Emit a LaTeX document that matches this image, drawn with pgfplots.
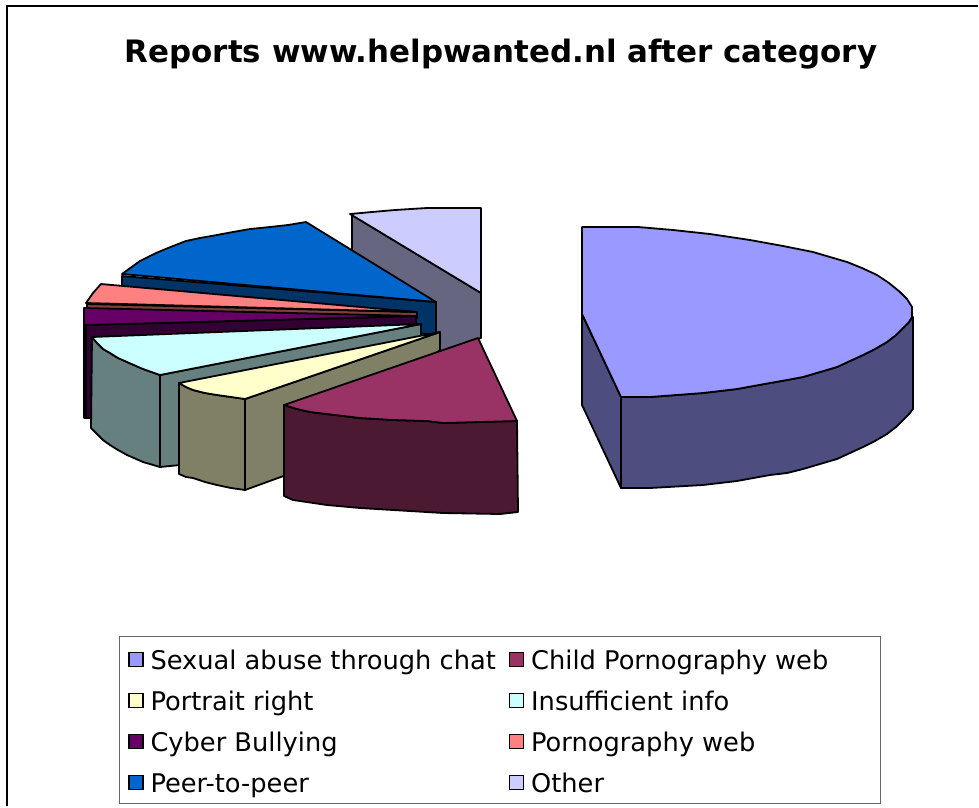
\documentclass[border=0pt]{standalone}
\usepackage{pgfplots}
\pgfplotsset{compat=1.18}
\usepackage{fontspec}
\setmainfont{DejaVu Sans}
\definecolor{aT}{HTML}{9999FF}\definecolor{aS}{HTML}{4D4D7F}
\definecolor{bT}{HTML}{993366}\definecolor{bS}{HTML}{4C1933}
\definecolor{cT}{HTML}{FFFFCC}\definecolor{cS}{HTML}{808066}
\definecolor{dT}{HTML}{CCFFFF}\definecolor{dS}{HTML}{668080}
\definecolor{eT}{HTML}{660066}\definecolor{eS}{HTML}{330033}
\definecolor{fT}{HTML}{FF8080}\definecolor{fS}{HTML}{804040}
\definecolor{gT}{HTML}{0066CC}\definecolor{gS}{HTML}{003366}
\definecolor{hT}{HTML}{CCCCFF}\definecolor{hS}{HTML}{666680}
\pgfplotsset{
  sl/.style={draw=black,line width=1.8pt,line join=round,fill=#1,forget plot},
  leg/.style={legend image code/.code={\draw[fill=#1,draw=black,line width=1.3pt] (0pt,3pt) rectangle (14pt,17pt);}}
}
\begin{document}
\begin{tikzpicture}
\begin{axis}[
  width=979pt,height=807pt,scale only axis,
  xmin=0,xmax=979,ymin=0,ymax=807,y dir=reverse,
  hide axis,clip=false,
  title={\fontsize{30.9pt}{34pt}\selectfont\bfseries Reports www.helpwanted.nl after category},
  title style={at={(axis cs:501,60)},anchor=center,inner sep=0pt},
  legend columns=2,
  legend style={at={(axis cs:125,639)},anchor=north west,draw=none,fill=none,
    font=\fontsize{25.7pt}{30pt}\selectfont,inner xsep=3pt,inner ysep=0pt,
    /tikz/every odd column/.append style={column sep=4pt},
    /tikz/every even column/.append style={column sep=10pt},
    nodes={inner xsep=3pt,inner ysep=0pt,minimum height=41pt,anchor=base west,text depth=0pt},
    legend cell align=left},
]
% page and frame
\addplot[draw=none,fill=white,forget plot] coordinates {(0,0)(979,0)(979,807)(0,807)} \closedcycle;
\addplot[draw=black,line width=1.8pt,forget plot] coordinates {(7,806)(7,6)(978,6)};
% legend frame
\addplot[draw=black!60,line width=1pt,fill=white,forget plot] coordinates {(119,636)(880,636)(880,803)(119,803)} --cycle;
% Legend keys, in the order of the data
\addlegendimage{leg=aT}\addlegendentry{Sexual abuse through chat}
\addlegendimage{leg=bT}\addlegendentry{Child Pornography web}
\addlegendimage{leg=cT}\addlegendentry{Portrait right}
\addlegendimage{leg=dT}\addlegendentry{Insufficient info}
\addlegendimage{leg=eT}\addlegendentry{Cyber Bullying}
\addlegendimage{leg=fT}\addlegendentry{Pornography web}
\addlegendimage{leg=gT}\addlegendentry{Peer-to-peer}
\addlegendimage{leg=hT}\addlegendentry{Other}
% Other
\addplot[sl=hS] coordinates {(352,215)(481,293)(481,338)(440,352)(352,352)} --cycle;
\addplot[sl=hT] coordinates {(350,214)(372,212)(395,210)(427,208)(481,208)(481,293)} --cycle;
% Peer-to-peer
\addplot[sl=gS] coordinates {(122,276)(436,302)(436,335)(122,300)} --cycle;
\addplot[sl=gT] coordinates {(122,274)(140,261)(156,253)(173,246)(186,241)(200,238)(217,235)(233,232)(250,229)(270,227)(288,225)(306,222)(436,302)} --cycle;
% Pornography web
\addplot[sl=fS] coordinates {(87,304)(417,312)(417,318)(87,309)} --cycle;
\addplot[sl=fT] coordinates {(86,303)(93,293)(101,284)(417,312)} --cycle;
% Cyber bullying
\addplot[sl=eS] coordinates {(84,325)(416,316)(416,324)(92,340)(92,418)(84,418)} --cycle;
\addplot[sl=eT] coordinates {(84,308)(416,316)(84,325)} --cycle;
\addplot[draw=black,line width=1.6pt,forget plot] coordinates {(86,325)(86,418)};
% Insufficient info
\addplot[sl=dS] coordinates {(160,375)(421,324)(421,336)(180,465)(160,467)} --cycle;
\addplot[sl=dS] coordinates {(92,337)(97,343)(103,349)(110,353)(118,358)(127,362)(143,369)(160,375)(160,467)(143,462)(127,455)(118,450)(110,445)(103,440)(97,434)(91,428)} --cycle;
\addplot[sl=dT] coordinates {(92,337)(97,343)(103,349)(110,353)(118,358)(127,362)(143,369)(160,375)(421,324)} --cycle;
% Portrait right
\addplot[sl=cS] coordinates {(245,399)(440,332)(440,350)(300,470)(245,490)} --cycle;
\addplot[sl=cS] coordinates {(179,383)(186,387)(193,390)(205,393)(217,395)(231,397)(245,399)(245,490)(231,488)(217,485)(205,482)(193,478)(186,477)(179,474)} --cycle;
\addplot[sl=cT] coordinates {(179,383)(186,387)(193,390)(205,393)(217,395)(231,397)(245,399)(440,332)} --cycle;
% Child pornography web
\addplot[sl=bS] coordinates {(284,405)(297,409)(310,412)(335,415)(360,418)(393,420)(427,421)(443,423)(480,422)(517,421)(518,512)(500,514)(443,513)(393,510)(360,508)(327,505)(293,500)(284,496)} --cycle;
\addplot[sl=bT] coordinates {(284,405)(297,409)(310,412)(335,415)(360,418)(393,420)(427,421)(443,423)(480,422)(517,421)(478,338)} --cycle;
% Sexual abuse through chat
\addplot[sl=aS] coordinates {(582,314)(621,397)(621,488)(582,405)} --cycle;
\addplot[sl=aS] coordinates {(621,397)(650,397)(703,393)(737,389)(770,383)(787,380)(803,377)(820,372)(837,367)(850,361)(863,355)(875,349)(887,342)(896,335)(903,328)(909,322)(913,317)(913,409)(909,414)(903,420)(896,427)(887,434)(875,441)(863,447)(850,453)(837,459)(820,464)(803,469)(787,473)(770,475)(737,481)(703,485)(650,488)(621,488)} --cycle;
\addplot[sl=aT] coordinates {(582,227)(638,227)(673,230)(710,234)(750,240)(783,246)(813,252)(847,262)(862,268)(877,275)(889,283)(900,292)(907,299)(912,307)(912,317)(909,322)(903,328)(896,335)(887,342)(875,349)(863,355)(850,361)(837,367)(820,372)(803,377)(787,380)(770,383)(737,389)(703,393)(650,397)(621,397)(582,314)} --cycle;
\end{axis}
\end{tikzpicture}
\end{document}
